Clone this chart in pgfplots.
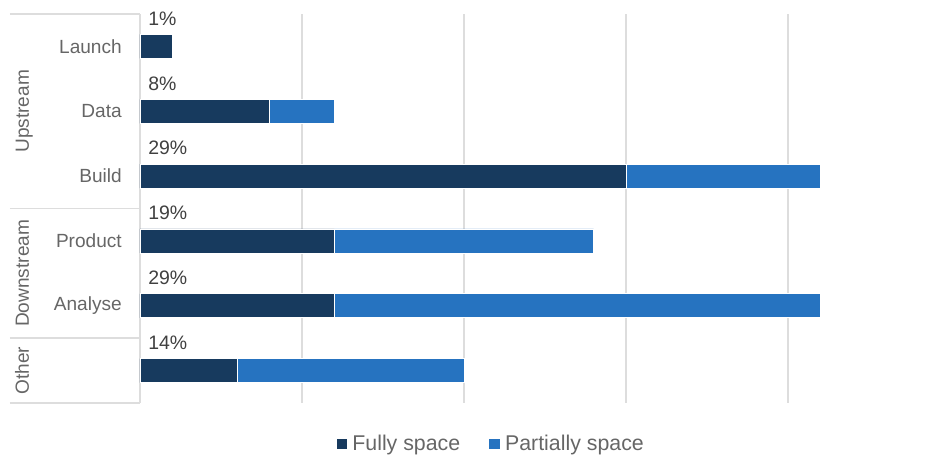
\documentclass[border=0pt]{standalone}
\usepackage{fontspec}
\setmainfont{Liberation Sans}
\usepackage{pgfplots}
\pgfplotsset{compat=1.18}
\definecolor{darkbar}{HTML}{173A5E}
\definecolor{lightbar}{HTML}{2673C0}
\definecolor{gridgray}{HTML}{DDDDDD}
\definecolor{labgray}{HTML}{666666}
\definecolor{pctgray}{HTML}{404040}
\tikzset{
  pct/.style={anchor=west, inner sep=0pt, xshift=6pt, text=pctgray, font=\fontsize{14.6pt}{17pt}\selectfont},
  grp/.style={rotate=90, anchor=base, inner sep=0pt, text=labgray, font=\fontsize{14.3pt}{17pt}\selectfont},
}
\begin{document}
\begin{tikzpicture}
\path[use as bounding box] (-105pt,-41.25pt) rectangle (599.25pt,302.25pt);
\begin{axis}[
  at={(0pt,0pt)}, anchor=south west,
  scale only axis,
  clip=false,
  width=592.95pt, height=291.75pt,
  xbar stacked,
  bar width=0.37,
  xmin=0, xmax=24.4,
  ymin=-0.5, ymax=5.5,
  y dir=reverse,
  xtick={0,5,10,15,20},
  xticklabels={},
  ytick={0,1,2,3,4},
  yticklabels={Launch,Data,Build,Product,Analyse},
  yticklabel style={anchor=east, inner sep=0pt, xshift=-13.5pt, text=labgray, font=\fontsize{14.3pt}{17pt}\selectfont},
  major tick length=0pt,
  xmajorgrids,
  grid style={draw=gridgray, line width=1.3pt},
  axis line style={draw=none},
  legend style={at={(0.444,-0.1054)}, anchor=center, draw=none, fill=none,
    legend columns=2, font=\fontsize{16pt}{19pt}\selectfont, text=labgray,
    /tikz/every even column/.append style={column sep=19pt},
    /tikz/every odd column/.append style={column sep=1.5pt}},
  area legend,
  legend image post style={xscale=0.5, yscale=1.5, draw=none},
]
\addplot[fill=darkbar, draw=white, line width=0.6pt] coordinates {(1,0) (4,1) (15,2) (6,3) (6,4) (3,5)};
\addlegendentry{Fully space}
\addplot[fill=lightbar, draw=white, line width=0.6pt] coordinates {(0,0) (2,1) (6,2) (8,3) (15,4) (7,5)};
\addlegendentry{Partially space}
\node[pct] at (axis cs:0,-0.43) {1\%};
\node[pct] at (axis cs:0,0.57) {8\%};
\node[pct] at (axis cs:0,1.57) {29\%};
\node[pct] at (axis cs:0,2.57) {19\%};
\node[pct] at (axis cs:0,3.57) {29\%};
\node[pct] at (axis cs:0,4.57) {14\%};
\end{axis}
\draw[gridgray, line width=1.3pt] (-97.5pt,291.75pt) -- (0pt,291.75pt);
\draw[gridgray, line width=1.3pt] (-97.5pt,145.875pt) -- (0pt,145.875pt);
\draw[gridgray, line width=1.3pt] (-97.5pt,48.625pt) -- (0pt,48.625pt);
\draw[gridgray, line width=1.3pt] (-97.5pt,0pt) -- (0pt,0pt);
\node[grp] at (-83.25pt,218.8pt) {Upstream};
\node[grp] at (-83.25pt,97.25pt) {Downstream};
\node[grp] at (-83.25pt,24.3pt) {Other};
\end{tikzpicture}
\end{document}
